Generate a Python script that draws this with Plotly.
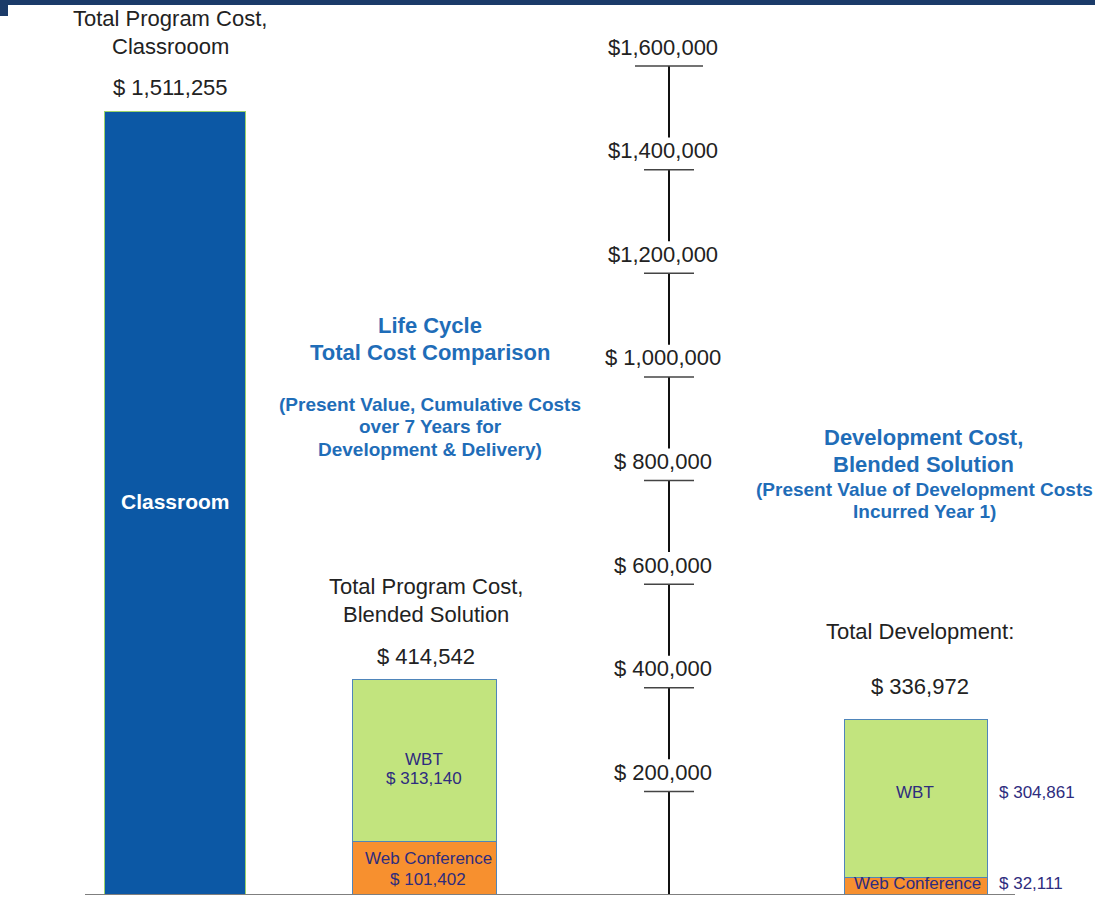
import plotly.graph_objects as go

# data
classroom_total = 1511255
blended_parts = {'Web Conference': 101402, 'WBT': 313140}
blended_total = 414542
dev_parts = {'Web Conference': 32111, 'WBT': 304861}
dev_total = 336972
tick_values = [200000, 400000, 600000, 800000, 1000000, 1200000, 1400000, 1600000]
tick_labels = ['$ 200,000', '$ 400,000', '$ 600,000', '$ 800,000',
               '$ 1,000,000', '$1,200,000', '$1,400,000', '$1,600,000']

# layout helpers (pixel -> data)
W, H = 1095, 912
BASE_PX = 895
PX_PER_UNIT = 829 / 1600000.0


def py(p):
    return (BASE_PX - p) / PX_PER_UNIT


FONT = 'Liberation Sans, Arial, sans-serif'
TITLE_BLUE = '#1F6DB8'
NAVY_TXT = '#2E2C7E'
BAR_BLUE = '#0C58A5'
GREEN = '#C2E47E'
ORANGE = '#F7902F'
EDGE = '#4F85BA'

x_class, x_blend, x_dev = 175.5, 425, 916.5

fig = go.Figure()
fig.add_trace(go.Bar(x=[x_class], y=[classroom_total], width=[141],
                     marker=dict(color=BAR_BLUE, line=dict(color='#9BD26A', width=1.5)),
                     showlegend=False, hoverinfo='skip'))
fig.add_trace(go.Bar(x=[x_blend, x_dev],
                     y=[blended_parts['Web Conference'], dev_parts['Web Conference']],
                     width=[144, 143],
                     marker=dict(color=ORANGE, line=dict(color=EDGE, width=1.5)),
                     showlegend=False, hoverinfo='skip'))
fig.add_trace(go.Bar(x=[x_blend, x_dev],
                     y=[blended_parts['WBT'], dev_parts['WBT']],
                     width=[144, 143],
                     marker=dict(color=GREEN, line=dict(color=EDGE, width=1.5)),
                     showlegend=False, hoverinfo='skip'))

# central value axis: line runs down from each tick, stopping above the next label
axis_x = 669
gap = 62000
step = 200000
for v in tick_values:
    lower = v - step
    fig.add_shape(type='line', x0=axis_x, x1=axis_x, y0=v,
                  y1=lower + gap if lower > 0 else 0,
                  line=dict(color='#111111', width=2))
for v, lab in zip(tick_values, tick_labels):
    half = 34 if v == tick_values[-1] else 25
    fig.add_shape(type='line', x0=axis_x - half, x1=axis_x + half, y0=v, y1=v,
                  line=dict(color='#444444', width=1.5))
    fig.add_annotation(x=663, y=v, yshift=19, text=lab, showarrow=False,
                       font=dict(family=FONT, size=22, color='#222222'))

# baseline
fig.add_shape(type='line', x0=85, x1=1015, y0=0, y1=0,
              line=dict(color='#7F7F7F', width=2))

# top band
fig.add_shape(type='rect', x0=0, x1=W, y0=py(0), y1=py(5),
              fillcolor='#1B3B69', line=dict(width=0))
fig.add_shape(type='rect', x0=0, x1=8, y0=py(0), y1=py(16),
              fillcolor='#1B3B69', line=dict(width=0))


def txt(x, p, s, size=22, color='#222222', bold=False, xanchor='center'):
    if bold:
        s = '<b>' + s + '</b>'
    fig.add_annotation(x=x, y=py(p), text=s, showarrow=False, xanchor=xanchor,
                       font=dict(family=FONT, size=size, color=color))


# classroom
txt(170, 18, 'Total Program Cost,')
txt(170, 46, 'Classrooom')
txt(170, 87, '$ {:,}'.format(classroom_total))
txt(x_class, 501, 'Classroom', size=21, color='white', bold=True)

# middle titles
txt(430, 325, 'Life Cycle', size=22, color=TITLE_BLUE, bold=True)
txt(430, 352, 'Total Cost Comparison', size=22, color=TITLE_BLUE, bold=True)
txt(430, 404, '(Present Value, Cumulative Costs', size=19, color=TITLE_BLUE, bold=True)
txt(430, 426, 'over 7 Years for', size=19, color=TITLE_BLUE, bold=True)
txt(430, 449, 'Development &amp; Delivery)', size=19, color=TITLE_BLUE, bold=True)

# blended
txt(426, 586, 'Total Program Cost,')
txt(426, 614, 'Blended Solution')
txt(426, 656, '$ {:,}'.format(blended_total))
txt(424, 759, 'WBT', size=17, color=NAVY_TXT)
txt(424, 778, '$ {:,}'.format(blended_parts['WBT']), size=17, color=NAVY_TXT)
txt(428, 858, 'Web Conference', size=17, color=NAVY_TXT)
txt(428, 879, '$ {:,}'.format(blended_parts['Web Conference']), size=17, color=NAVY_TXT)

# development
txt(923, 437, 'Development Cost,', size=22, color=TITLE_BLUE, bold=True)
txt(923, 464, 'Blended Solution', size=22, color=TITLE_BLUE, bold=True)
txt(924, 489, '(Present Value of Development Costs', size=19, color=TITLE_BLUE, bold=True)
txt(924, 511, 'Incurred Year 1)', size=19, color=TITLE_BLUE, bold=True)
txt(920, 631, 'Total Development:')
txt(920, 686, '$ {:,}'.format(dev_total))
txt(915, 792, 'WBT', size=17, color=NAVY_TXT)
txt(997, 792, '$ {:,}'.format(dev_parts['WBT']), size=17, color=NAVY_TXT, xanchor='left')
txt(917, 883, 'Web Conference', size=17, color=NAVY_TXT)
txt(997, 883, '$ {:,}'.format(dev_parts['Web Conference']), size=17, color=NAVY_TXT, xanchor='left')

fig.update_layout(
    width=W, height=H,
    barmode='stack', bargap=0,
    margin=dict(l=0, r=0, t=0, b=H - BASE_PX, pad=0),
    paper_bgcolor='white', plot_bgcolor='white',
    xaxis=dict(range=[0, W], visible=False, fixedrange=True),
    yaxis=dict(range=[0, py(0)], visible=False, fixedrange=True),
    font=dict(family=FONT),
)

fig.write_html('out.html', config={'displayModeBar': False},
               post_script="document.body.style.margin='0';document.body.style.overflow='hidden';")
